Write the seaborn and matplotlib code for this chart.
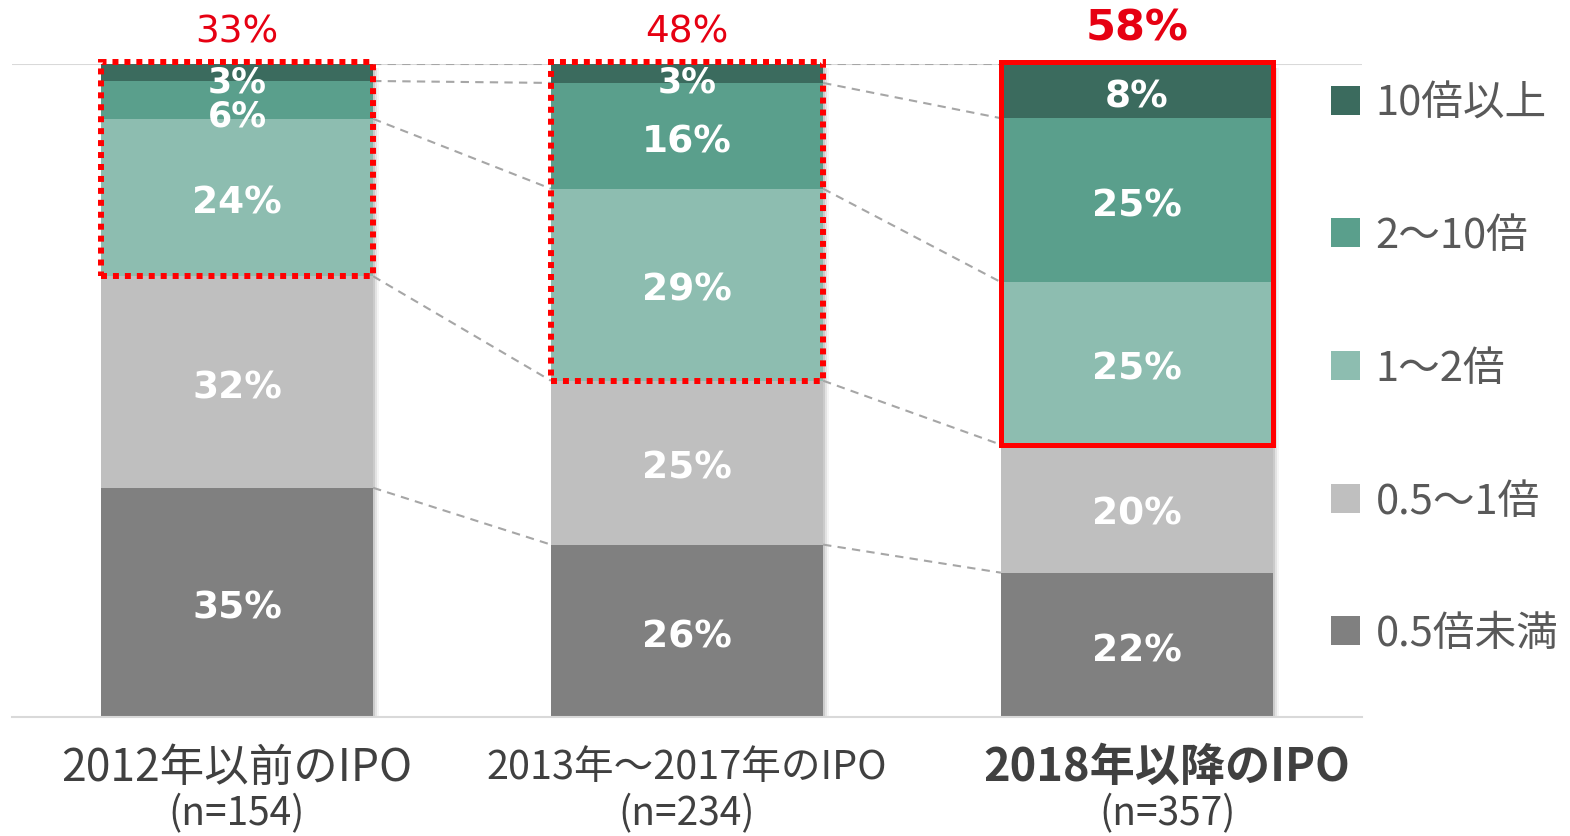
import numpy as np
import pandas as pd
import seaborn as sns
import matplotlib.pyplot as plt
from matplotlib.patches import Rectangle

periods = ['2012年以前のIPO', '2013年～2017年のIPO', '2018年以降のIPO']
sample_n = ['(n=154)', '(n=234)', '(n=357)']
categories = ['0.5倍未満', '0.5～1倍', '1～2倍', '2～10倍', '10倍以上']
colors = ['#808080', '#bfbfbf', '#8dbdb0', '#5a9f8c', '#3b6b5e']

# share (%) of each category, bottom to top
share_2012 = [35.1, 32.4, 24.1, 5.8, 2.6]
share_2013 = [26.4, 25.1, 29.4, 16.2, 2.9]
share_2018 = [22.1, 19.6, 24.9, 25.1, 8.3]
over_1x = ['33%', '48%', '58%']

sns.set_style('white')
plt.rcParams['font.family'] = ['Noto Sans CJK JP', 'DejaVu Sans']

shares = np.array([share_2012, share_2013, share_2018])
cum = shares.cumsum(axis=1)
df = pd.DataFrame([
    {'period': p, 'category': c, 'share': shares[i, j], 'top': cum[i, j]}
    for i, p in enumerate(periods) for j, c in enumerate(categories)
])

fig = plt.figure(figsize=(15.7, 8.37), dpi=100)
ax = fig.add_axes([12 / 1570, 119 / 837, 1350 / 1570, 653 / 837])
width = 0.605

# soft shadow on the right of each bar
for i in range(len(periods)):
    for k, a in zip([0.004, 0.009, 0.014], [0.10, 0.07, 0.04]):
        ax.add_patch(Rectangle((i - width / 2 + k, -0.6), width, cum[i, -1],
                               color='black', alpha=a, lw=0, zorder=0.5))

# stacked bars: draw cumulative tops from largest to smallest
for j in range(len(categories) - 1, -1, -1):
    sub = df[df['category'] == categories[j]]
    sns.barplot(data=sub, x='period', y='top', color=colors[j], width=width,
                saturation=1, linewidth=0, ax=ax, label=categories[j], zorder=2)

# segment labels
nudge = {(0, 3): -1.6, (0, 4): -0.6, (1, 4): -0.4}
for i in range(len(periods)):
    for j in range(len(categories)):
        small = shares[i, j] < 7
        y = cum[i, j] - shares[i, j] / 2 - 0.8 + nudge.get((i, j), 0)
        ax.text(i, y, f'{shares[i, j]:.0f}%', ha='center', va='center',
                color='white', fontsize=25 if small else 27, fontweight='bold',
                family='DejaVu Sans', zorder=5)

# dashed connectors between bars
for i in range(len(periods) - 1):
    for j in range(len(categories)):
        ax.plot([i + width / 2, i + 1 - width / 2], [cum[i, j], cum[i + 1, j]],
                ls=(0, (4, 3)), color='#a6a6a6', lw=1.5, zorder=1)

# red boxes around the "1x and above" part
for i in range(len(periods)):
    y0 = cum[i, 1]
    if i < 2:
        ax.add_patch(Rectangle((i - width / 2, y0), width, 100.3 - y0, fill=False,
                               ec='#ff0000', lw=4.3, ls=(0, (1, 1)),
                               clip_on=False, zorder=6))
    else:
        ax.add_patch(Rectangle((i - width / 2, y0), width, 100.3 - y0, fill=False,
                               ec='#ff0000', lw=3.6, clip_on=False, zorder=6))
    ax.text(i, 105.0 if i < 2 else 105.6, over_1x[i], ha='center', va='center',
            color='#e60012', fontsize=31 if i == 2 else 27, family='DejaVu Sans',
            fontweight='bold' if i == 2 else 'normal', clip_on=False)

ax.axhline(100, color='#d9d9d9', lw=1.5, zorder=0.8)
ax.set_xlim(-0.5, 2.5)
ax.set_ylim(0, 100)
ax.set_yticks([])
ax.set_xlabel('')
ax.set_ylabel('')
for s in ['top', 'right', 'left']:
    ax.spines[s].set_visible(False)
ax.spines['bottom'].set_color('#d9d9d9')
ax.spines['bottom'].set_linewidth(1.5)
ax.set_xticks(range(len(periods)))
ax.set_xticklabels([])
ax.tick_params(axis='x', length=0)

# category labels (the last one is bold and sits a little to the right)
label_size = [32, 28.5, 32.5]
for i, (p, n) in enumerate(zip(periods, sample_n)):
    x = i + (0.067 if i == 2 else 0)
    ax.text(x, -7.7, p, ha='center', va='center', fontsize=label_size[i],
            color='#404040', fontweight='bold' if i == 2 else 'normal', clip_on=False)
    ax.text(x, -14.8, n, ha='center', va='center', fontsize=28, color='#404040',
            clip_on=False)

handles, labels = ax.get_legend_handles_labels()
leg = ax.legend(handles, labels, loc='upper left', bbox_to_anchor=(1314 / 1570, 1 - 67 / 837),
                bbox_transform=fig.transFigure, frameon=False, fontsize=30,
                handlelength=0.7, handleheight=0.7, handletextpad=0.38,
                labelspacing=2.2, borderaxespad=0)
for t in leg.get_texts():
    t.set_color('#595959')

fig.savefig('out.png', dpi=100)
